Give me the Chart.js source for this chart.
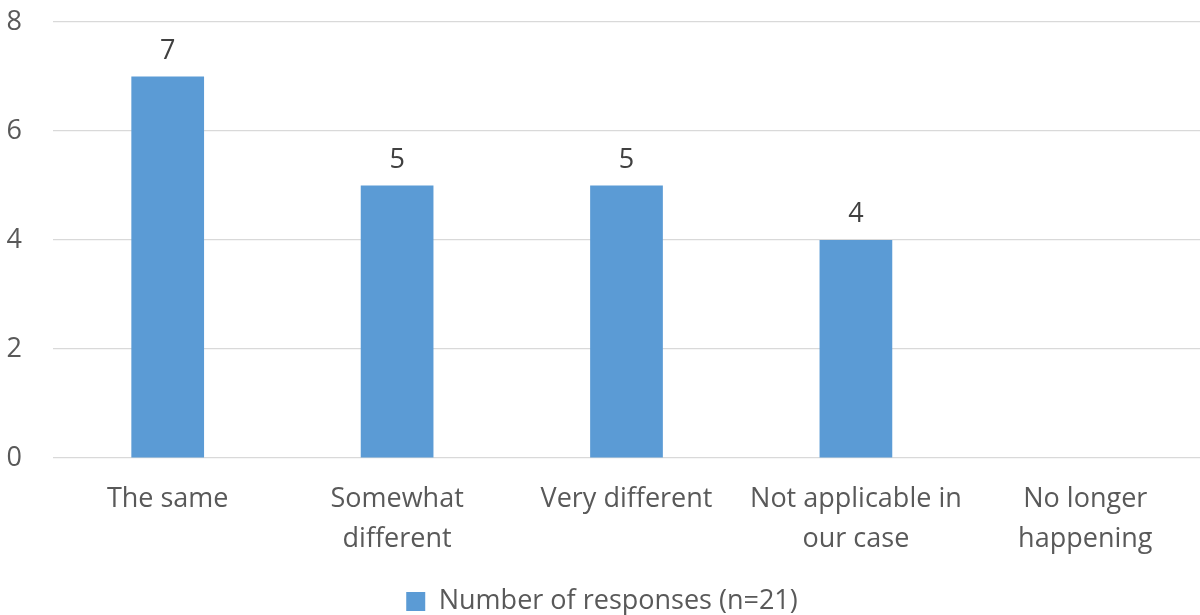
<!DOCTYPE html>
<html>
<head>
<meta charset="utf-8">
<script src="https://cdn.jsdelivr.net/npm/chart.js@4"></script>
<style>
  html, body { margin: 0; padding: 0; background: #fff; }
  #wrap { width: 1200px; height: 615px; }
</style>
</head>
<body>
<div id="wrap"><canvas id="chart" width="1200" height="615"></canvas></div>
<script>
// Data
const categories = [
    'The same',
    ['Somewhat', 'different'],
    'Very different',
    ['Not applicable in', 'our case'],
    ['No longer', 'happening']
];
const responses = [7, 5, 5, 4, 0];
const seriesLabel = 'Number of responses (n=21)';
const yTicks = [0, 2, 4, 6, 8];

const textColor = '#595959';
const barColor = '#5B9BD5';
const fontSize = 27;

// Value labels above bars (skip zero)
const valueLabels = {
    id: 'valueLabels',
    afterDatasetsDraw(chart) {
        const ctx = chart.ctx;
        const meta = chart.getDatasetMeta(0);
        ctx.save();
        ctx.font = fontSize + 'px "Open Sans"';
        ctx.fillStyle = '#404040';
        ctx.textAlign = 'center';
        ctx.textBaseline = 'bottom';
        meta.data.forEach((bar, i) => {
            const v = responses[i];
            if (!v) return;
            ctx.fillText(String(v), bar.x, bar.y - 12);
        });
        ctx.restore();
    }
};

new Chart(document.getElementById('chart').getContext('2d'), {
    type: 'bar',
    data: {
        labels: categories,
        datasets: [{
            label: seriesLabel,
            data: responses,
            backgroundColor: barColor,
            borderWidth: 0,
            categoryPercentage: 1,
            barPercentage: 0.317
        }]
    },
    options: {
        responsive: false,
        animation: false,
        layout: { padding: { top: 22, right: 0, bottom: -10, left: 4 } },
        plugins: {
            legend: {
                position: 'bottom',
                labels: {
                    color: textColor,
                    font: { family: 'Open Sans', size: fontSize, lineHeight: 1 },
                    boxWidth: 19,
                    boxHeight: 19,
                    padding: 0
                }
            },
            tooltip: { enabled: false }
        },
        scales: {
            y: {
                min: 0,
                max: 8,
                afterBuildTicks: (axis) => { axis.ticks = yTicks.map(v => ({ value: v })); },
                afterFit: (axis) => {
                    axis.width = 49;
                    axis.paddingTop = 0;
                    axis.paddingBottom = 0;
                },
                ticks: {
                    color: textColor,
                    font: { family: 'Open Sans', size: fontSize },
                    padding: 31
                },
                grid: { color: '#D9D9D9', lineWidth: 1.3, drawTicks: false },
                border: { display: false }
            },
            x: {
                afterFit: (axis) => { axis.height += 16; },
                ticks: {
                    color: textColor,
                    font: { family: 'Open Sans', size: fontSize, lineHeight: 1.48 },
                    padding: 13,
                    maxRotation: 0
                },
                grid: { display: false },
                border: { display: false }
            }
        }
    },
    plugins: [valueLabels]
});
</script>
</body>
</html>
